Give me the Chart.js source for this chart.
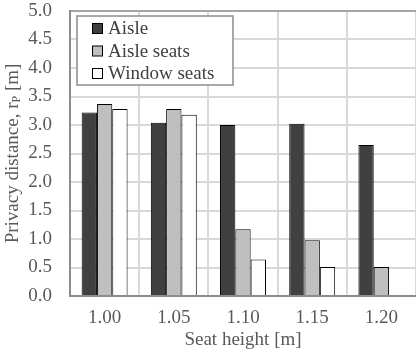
<!DOCTYPE html>
<html><head><meta charset="utf-8">
<script src="https://cdn.jsdelivr.net/npm/chart.js@4/dist/chart.umd.min.js"></script>
<style>html,body{margin:0;padding:0;background:#fff;}#wrap{width:416px;height:355px;}</style>
</head><body><div id="wrap"><canvas id="c" width="416" height="355"></canvas></div>
<script>
const categories = ["1.00", "1.05", "1.10", "1.15", "1.20"];
const aisle = [3.22, 3.04, 3.00, 3.02, 2.65];
const aisleSeats = [3.37, 3.28, 1.17, 0.98, 0.51];
const windowSeats = [3.28, 3.18, 0.64, 0.51, null];
const seriesNames = ["Aisle", "Aisle seats", "Window seats"];
const xTitle = "Seat height [m]";

const FONT = "'Liberation Serif', 'Times New Roman', serif";
const GRAY = '#595959';
const FS = 19;

const yTitlePlugin = {
  id: 'yTitleSub',
  afterDraw(chart) {
    const ctx = chart.ctx;
    const area = chart.chartArea;
    const parts = [["Privacy distance, r", FS, 0], ["P", 12, 4], [" [m]", FS, 0]];
    ctx.save();
    ctx.translate(13, (area.top + area.bottom) / 2);
    ctx.rotate(-Math.PI / 2);
    ctx.fillStyle = GRAY;
    ctx.textBaseline = 'middle';
    let total = 0;
    parts.forEach(p => { ctx.font = p[1] + 'px ' + FONT; total += ctx.measureText(p[0]).width; });
    let x = -total / 2;
    ctx.textAlign = 'left';
    parts.forEach(p => {
      ctx.font = p[1] + 'px ' + FONT;
      ctx.fillText(p[0], x, p[2]);
      x += ctx.measureText(p[0]).width;
    });
    ctx.restore();
  }
};

const legendPlugin = {
  id: 'innerLegend',
  afterDraw(chart) {
    const ctx = chart.ctx;
    ctx.save();
    ctx.fillStyle = '#fff';
    ctx.fillRect(77, 16, 156, 69);
    ctx.strokeStyle = '#8c8c8c';
    ctx.lineWidth = 1.5;
    ctx.strokeRect(77, 16, 156, 69);
    ctx.font = FS + 'px ' + FONT;
    ctx.textBaseline = 'middle';
    ctx.textAlign = 'left';
    chart.data.datasets.forEach((ds, i) => {
      const cy = 28.5 + i * 22.5;
      ctx.fillStyle = ds.backgroundColor;
      ctx.fillRect(92.5, cy - 5, 10, 10);
      ctx.strokeStyle = '#000';
      ctx.lineWidth = 1;
      ctx.strokeRect(92.5, cy - 5, 10, 10);
      ctx.fillStyle = '#404040';
      ctx.fillText(ds.label, 108, cy + 1);
    });
    ctx.restore();
  }
};

new Chart(document.getElementById('c'), {
  type: 'bar',
  data: {
    labels: categories,
    datasets: [
      { label: seriesNames[0], data: aisle, backgroundColor: '#404040', borderColor: '#000', borderWidth: 1 },
      { label: seriesNames[1], data: aisleSeats, backgroundColor: '#bfbfbf', borderColor: '#000', borderWidth: 1 },
      { label: seriesNames[2], data: windowSeats, backgroundColor: '#ffffff', borderColor: '#000', borderWidth: 1 }
    ]
  },
  options: {
    responsive: false,
    animation: false,
    devicePixelRatio: 1,
    categoryPercentage: 0.664,
    barPercentage: 1.0,
    layout: { padding: { top: 0, right: 0, left: 0, bottom: 0 } },
    plugins: { legend: { display: false }, tooltip: { enabled: false } },
    scales: {
      x: {
        afterFit: s => { s.height = 59; },
        grid: { color: '#d9d9d9', lineWidth: 2, drawTicks: false, offset: true },
        border: { color: '#8c8c8c', width: 2 },
        ticks: { color: GRAY, font: { family: FONT, size: FS }, padding: 11 },
        title: { display: true, text: xTitle, color: GRAY, font: { family: FONT, size: FS }, padding: { top: 0, bottom: 4 } }
      },
      y: {
        min: 0, max: 5,
        afterFit: s => { s.width = 70; s.paddingTop = 11; },
        grid: { color: c => (c.tick && c.tick.value === 5) ? '#a6a6a6' : '#d9d9d9', lineWidth: 2, drawTicks: false },
        border: { color: '#8c8c8c', width: 2 },
        ticks: { stepSize: 0.5, color: GRAY, font: { family: FONT, size: FS }, padding: 18,
                 callback: v => Number(v).toFixed(1) }
      }
    }
  },
  plugins: [yTitlePlugin, legendPlugin]
});
</script></body></html>
